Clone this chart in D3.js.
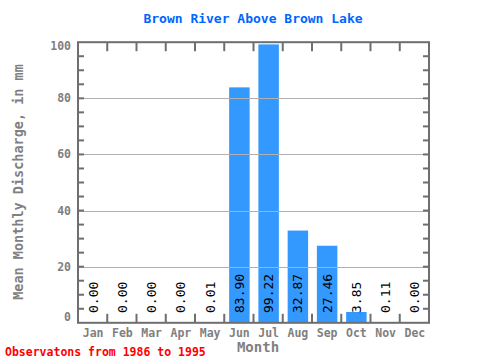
<!DOCTYPE html>
<html><head><meta charset="utf-8">
<script src="https://cdn.jsdelivr.net/npm/d3@7"></script>
<style>body{margin:0;background:#fff;} svg{display:block;}</style>
</head><body>
<script>
const months = ["Jan","Feb","Mar","Apr","May","Jun","Jul","Aug","Sep","Oct","Nov","Dec"];
const values = [0.00,0.00,0.00,0.00,0.01,83.90,99.22,32.87,27.46,3.85,0.11,0.00];
const yTicks = [0,20,40,60,80,100];
const title = "Brown River Above Brown Lake";
const yTitle = "Mean Monthly Discharge, in mm";
const xTitle = "Month";
const footer = "Observatons from 1986 to 1995";

const W = 480, H = 360;
const L = 78, R = 429, T = 42.2, B = 322.8;
const font = "'DejaVu Sans Mono', 'Liberation Mono', monospace";
const frameColor = "#6e6e6e", textGray = "#808080";

const svg = d3.select("body").append("svg").attr("width", W).attr("height", H);

const x = d3.scaleBand().domain(months).range([L, R]).paddingInner(0.3).paddingOuter(0.15);
const xs = d3.scaleLinear().domain([0, 12]).range([L, R]);
const y = d3.scaleLinear().domain([0, 100]).range([B, T]);

// bars
svg.append("g").selectAll("rect").data(values).join("rect")
  .attr("x", (d, i) => x(months[i]) + 0.5)
  .attr("width", x.bandwidth())
  .attr("y", d => y(d))
  .attr("height", d => B - y(d))
  .attr("fill", "#3399ff");

// grid lines over bars
svg.append("g").selectAll("line").data(yTicks.filter(t => t > 0 && t < 100)).join("line")
  .attr("x1", L).attr("x2", R)
  .attr("y1", d => Math.round(y(d)) + 0.5).attr("y2", d => Math.round(y(d)) + 0.5)
  .attr("stroke", "#b0b0b0").attr("stroke-width", 1);

// value labels
svg.append("g").selectAll("text").data(values).join("text")
  .attr("transform", (d, i) => `translate(${x(months[i]) + x.bandwidth() / 2 + 5},313) rotate(-90)`)
  .attr("text-anchor", "start")
  .attr("font-family", font).attr("font-size", 13)
  .attr("fill", "#000")
  .text(d => d.toFixed(2));

// frame
svg.append("rect").attr("x", L).attr("y", T).attr("width", R - L).attr("height", B - T)
  .attr("fill", "none").attr("stroke", frameColor).attr("stroke-width", 2);

// y minor ticks (every 5)
const yMinor = d3.range(5, 100, 5);
const gt = svg.append("g").attr("stroke", frameColor).attr("stroke-width", 2);
gt.selectAll(".yl").data(yMinor).join("line")
  .attr("x1", L).attr("x2", L + 6).attr("y1", d => y(d)).attr("y2", d => y(d));
gt.selectAll(".yr").data(yMinor).join("line")
  .attr("x1", R - 6).attr("x2", R).attr("y1", d => y(d)).attr("y2", d => y(d));
// x ticks at month boundaries
const xb = d3.range(1, 12);
gt.selectAll(".xb").data(xb).join("line")
  .attr("x1", d => xs(d)).attr("x2", d => xs(d)).attr("y1", B - 9).attr("y2", B);
gt.selectAll(".xt").data(xb).join("line")
  .attr("x1", d => xs(d)).attr("x2", d => xs(d)).attr("y1", T).attr("y2", T + 9);

// y tick labels
svg.append("g").selectAll("text").data(yTicks).join("text")
  .attr("x", 71)
  .attr("y", d => d === 0 ? 321 : d === 100 ? 50 : y(d) + 4)
  .attr("text-anchor", "end")
  .attr("font-family", font).attr("font-size", 11.5).attr("font-weight", "bold")
  .attr("fill", textGray)
  .text(d => d);

// month labels
svg.append("g").selectAll("text").data(months).join("text")
  .attr("x", d => x(d) + x.bandwidth() / 2 + 0.5)
  .attr("y", 337)
  .attr("text-anchor", "middle")
  .attr("font-family", font).attr("font-size", 11.5).attr("font-weight", "bold")
  .attr("fill", textGray)
  .text(d => d);

// titles
svg.append("text").attr("x", 253).attr("y", 23).attr("text-anchor", "middle")
  .attr("font-family", font).attr("font-size", 13).attr("font-weight", "bold")
  .attr("fill", "#0066ff").text(title);

svg.append("text").attr("transform", `translate(23,182) rotate(-90)`).attr("text-anchor", "middle")
  .attr("font-family", font).attr("font-size", 13.5).attr("font-weight", "bold")
  .attr("fill", textGray).text(yTitle);

svg.append("text").attr("x", 258).attr("y", 352).attr("text-anchor", "middle")
  .attr("font-family", font).attr("font-size", 14).attr("font-weight", "bold")
  .attr("fill", textGray).text(xTitle);

svg.append("text").attr("x", 5).attr("y", 356).attr("text-anchor", "start")
  .attr("font-family", font).attr("font-size", 11.5).attr("font-weight", "bold")
  .attr("fill", "#ff0000").text(footer);
</script>
</body></html>
